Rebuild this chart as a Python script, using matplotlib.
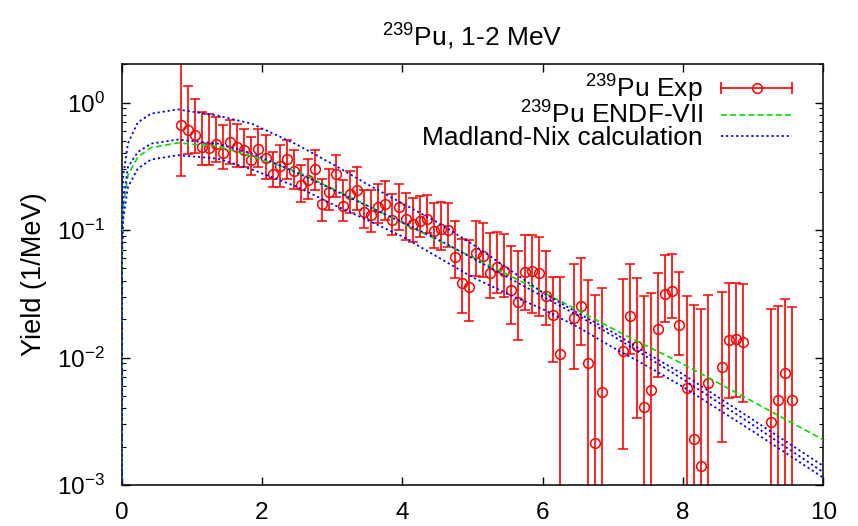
import matplotlib
matplotlib.use("Agg")
import matplotlib.pyplot as plt
from matplotlib.lines import Line2D
from matplotlib.legend_handler import HandlerLine2D, HandlerTuple
from matplotlib.ticker import LogLocator, NullFormatter, FixedLocator
import numpy as np

plt.rcParams['font.family'] = ['Liberation Sans', 'DejaVu Sans']
plt.rcParams['mathtext.fontset'] = 'custom'
plt.rcParams['mathtext.rm'] = 'Liberation Sans'
plt.rcParams['mathtext.it'] = 'Liberation Sans:italic'
plt.rcParams['mathtext.bf'] = 'Liberation Sans:bold'
plt.rcParams['axes.unicode_minus'] = False

# ---- experimental data ----
exp_x = [0.85, 0.95, 1.05, 1.15, 1.25, 1.35, 1.45, 1.55, 1.65, 1.75, 1.85, 1.95,
         2.05, 2.15, 2.25, 2.35, 2.45, 2.55, 2.65, 2.75, 2.85, 2.95, 3.05, 3.15,
         3.25, 3.35, 3.45, 3.55, 3.65, 3.75, 3.85, 3.95, 4.05, 4.15, 4.25, 4.35,
         4.45, 4.55, 4.65, 4.75, 4.85, 4.95, 5.05, 5.15, 5.25, 5.35, 5.45, 5.55,
         5.65, 5.75, 5.85, 5.95, 6.05, 6.15, 6.25, 6.45, 6.55, 6.65, 6.75, 6.85,
         7.15, 7.25, 7.35, 7.45, 7.55, 7.65, 7.75, 7.85, 7.95, 8.05, 8.15, 8.25,
         8.35, 8.55, 8.65, 8.75, 8.85, 9.25, 9.35, 9.45, 9.55]
exp_y = [0.664, 0.607, 0.557, 0.449, 0.44, 0.474, 0.403, 0.489, 0.449, 0.423, 0.357, 0.436,
         0.371, 0.278, 0.317, 0.36, 0.29, 0.225, 0.246, 0.30, 0.16, 0.20, 0.278, 0.155,
         0.191, 0.208, 0.138, 0.131, 0.152, 0.16, 0.12, 0.152, 0.122, 0.111, 0.118, 0.122,
         0.0988, 0.102, 0.101, 0.0618, 0.0383, 0.0356, 0.0664, 0.0626, 0.0463, 0.051, 0.0477, 0.0339,
         0.0275, 0.0467, 0.0477, 0.0458, 0.0306, 0.0216, 0.0107, 0.0204, 0.0254, 0.00914, 0.00214, 0.0054,
         0.0113, 0.0213, 0.0124, 0.00413, 0.00558, 0.0167, 0.0314, 0.0333, 0.0181, 0.00572, 0.0023, 0.00142,
         0.00637, 0.0085, 0.0138, 0.0139, 0.0132, 0.00312, 0.00464, 0.0075, 0.00464]
exp_lo = [0.268, 0.399, 0.40, 0.323, 0.323, 0.343, 0.304, 0.333, 0.31, 0.313, 0.27, 0.313,
          0.254, 0.216, 0.218, 0.254, 0.212, 0.167, 0.174, 0.206, 0.118, 0.145, 0.182, 0.117,
          0.135, 0.145, 0.104, 0.097, 0.113, 0.12, 0.0914, 0.1, 0.0835, 0.081, 0.0887, 0.0942,
          0.0719, 0.0697, 0.074, 0.0419, 0.0225, 0.0194, 0.0436, 0.0426, 0.0292, 0.0323, 0.03, 0.0184,
          0.0138, 0.0236, 0.0223, 0.021, 0.018, 0.0093, 1e-4, 0.00816, 0.0126, 1e-4, 1e-4, 1e-4,
          0.0019, 0.0107, 0.00335, 1e-4, 1e-4, 0.0071, 0.0191, 0.0204, 0.0105, 1e-4, 1e-4, 1e-4,
          1e-4, 0.00218, 0.00481, 0.00487, 0.00452, 1e-4, 1e-4, 1e-4, 1e-4]
exp_hi = [2.2, 1.35, 1.06, 0.844, 0.82, 0.771, 0.664, 0.736, 0.685, 0.626, 0.538, 0.626,
          0.554, 0.41, 0.463, 0.507, 0.428, 0.323, 0.364, 0.423, 0.254, 0.304, 0.387, 0.246,
          0.29, 0.31, 0.208, 0.206, 0.232, 0.242, 0.191, 0.229, 0.196, 0.177, 0.186, 0.188,
          0.162, 0.165, 0.162, 0.1176, 0.0846, 0.0835, 0.1176, 0.113, 0.0942, 0.097, 0.0925, 0.0754,
          0.0689, 0.0919, 0.0914, 0.0877, 0.0689, 0.0431, 0.0431, 0.054, 0.060, 0.0405, 0.031, 0.035,
          0.041, 0.054, 0.0419, 0.0304, 0.0319, 0.0458, 0.0637, 0.0649, 0.0467, 0.0304, 0.0259, 0.0241,
          0.031, 0.0325, 0.0386, 0.0386, 0.0376, 0.0239, 0.0254, 0.0288, 0.0251]

# ---- calculated spectra ----
curve_x = [0.0, 0.005, 0.02, 0.09, 0.23, 0.42, 0.8, 1.37, 1.85, 2.5, 3.0, 3.5, 4.0,
           4.5, 5.0, 5.5, 6.0, 6.5, 7.0, 7.5, 8.0, 9.0, 10.0]
endf_y = [1e-4, 0.075, 0.15, 0.27, 0.375, 0.444, 0.483, 0.455, 0.38, 0.288, 0.212, 0.156, 0.114,
          0.0835, 0.0612, 0.0448, 0.0326, 0.0236, 0.0168, 0.0122, 0.0089, 0.0045, 0.00226]
mn_upper = [1e-4, 0.13, 0.26, 0.48, 0.70, 0.82, 0.885, 0.79, 0.685, 0.468, 0.331, 0.229, 0.162,
            0.115, 0.0776, 0.0501, 0.0324, 0.0224, 0.0158, 0.0107, 0.0074, 0.00324, 0.00141]
mn_middle = [1e-4, 0.09, 0.17, 0.313, 0.41, 0.477, 0.513, 0.477, 0.40, 0.282, 0.209, 0.155, 0.115,
             0.0851, 0.0603, 0.0427, 0.0302, 0.0214, 0.0148, 0.0100, 0.00676, 0.00295, 0.00126]
mn_lower = [1e-4, 0.06, 0.12, 0.218, 0.304, 0.358, 0.387, 0.364, 0.30, 0.219, 0.16, 0.12, 0.0891,
            0.0617, 0.0427, 0.0316, 0.024, 0.0174, 0.012, 0.00851, 0.00589, 0.00263, 0.00114]

x_ticks = [0, 2, 4, 6, 8, 10]

RED = '#ff0000'
GREEN = '#00dd00'
BLUE = '#0000ff'

fig = plt.figure(figsize=(8.58, 5.26), dpi=100)
ax = fig.add_axes([0.1418, 0.0779, 0.8178, 0.7999])

ey = np.array(exp_y)
yerr = [ey - np.array(exp_lo), np.array(exp_hi) - ey]
ax.errorbar(exp_x, exp_y, yerr=yerr, fmt='o', color=RED, mfc='none', mec=RED,
            ms=7, mew=1.1, elinewidth=1.2, capsize=3.5, capthick=1.2, zorder=2)

ax.plot(curve_x, endf_y, color=GREEN, lw=1.2, dashes=(3.5, 2.0), zorder=3)
for yy in (mn_upper, mn_middle, mn_lower):
    ax.plot(curve_x, yy, color=BLUE, lw=1.3, dashes=(1.2, 1.6), zorder=4)

ax.set_yscale('log')
ax.set_xlim(0, 10)
ax.set_ylim(1e-3, 2.0)
ax.xaxis.set_major_locator(FixedLocator(x_ticks))
ax.set_xticklabels([str(t) for t in x_ticks])
ax.yaxis.set_major_locator(LogLocator(base=10, numticks=10))
ax.yaxis.set_minor_locator(LogLocator(base=10, subs=np.arange(2, 10), numticks=20))
ax.yaxis.set_minor_formatter(NullFormatter())

ax.tick_params(which='both', direction='in', top=True, right=True, colors='black')
ax.tick_params(axis='both', which='major', length=6, width=1.0, labelsize=17.5)
ax.tick_params(axis='both', which='minor', length=3, width=0.8)
ax.tick_params(axis='y', which='major', pad=12)
ax.tick_params(axis='x', which='major', pad=12)
for s in ax.spines.values():
    s.set_linewidth(1.1)

ax.set_ylabel('Yield (1/MeV)', fontsize=19.5, labelpad=7)
ax.set_title(r'$\mathregular{^{239}}$Pu, 1-2 MeV', fontsize=19, pad=13)

# legend handles (gnuplot style)
caps = Line2D([], [], color=RED, lw=1.2, marker='|', ms=8, mew=1.2)
circ = Line2D([], [], color=RED, lw=0, marker='o', ms=7, mfc='none', mew=1.1)
h_endf = Line2D([], [], color=GREEN, lw=1.2, dashes=(3.5, 2.0))
h_mn = Line2D([], [], color=BLUE, lw=1.3, dashes=(1.2, 1.6))
leg = ax.legend([(caps, circ), h_endf, h_mn],
                [r'$\mathregular{^{239}}$Pu Exp', r'$\mathregular{^{239}}$Pu ENDF-VII',
                 'Madland-Nix calculation'],
                handler_map={caps: HandlerLine2D(numpoints=2, marker_pad=0),
                             circ: HandlerLine2D(numpoints=1),
                             tuple: HandlerTuple(ndivide=1)},
                markerfirst=False, frameon=False, fontsize=19,
                handlelength=2.7, handletextpad=0.7, labelspacing=-0.1,
                loc='upper right', bbox_to_anchor=(0.971, 1.006), borderaxespad=0.0)

fig.savefig('out.png', dpi=100)
